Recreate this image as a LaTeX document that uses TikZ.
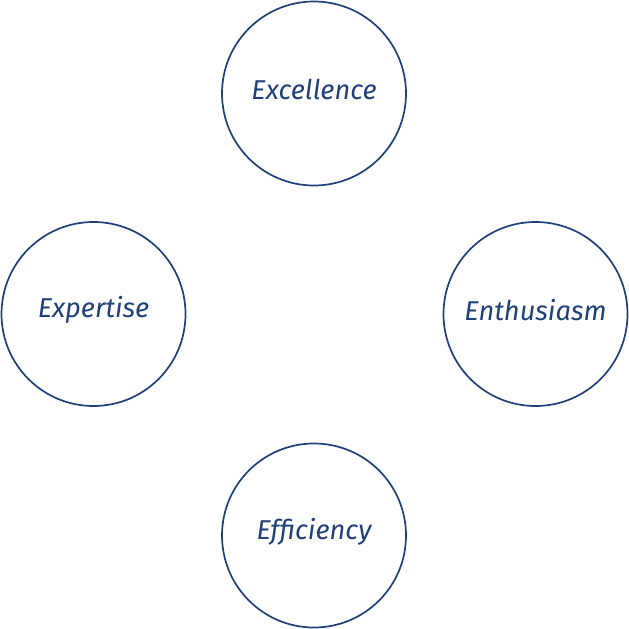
\documentclass[tikz,border=0pt]{standalone}
\usepackage{fontspec}
\setmainfont{Fira Sans}
\definecolor{navy}{HTML}{1F4078}
\begin{document}
\begin{tikzpicture}[x=1pt,y=-1pt,
  ring/.style={circle,draw=navy,line width=1.7pt,minimum size=184pt,inner sep=0pt},
  lbl/.style={text=navy,font=\fontsize{27.2}{30}\selectfont\itshape}]
\useasboundingbox (0,0) rectangle (629,629);
\node[ring] (exc) at (314,93.5) {};
\node[ring] (exp) at (93.5,314) {};
\node[ring] (ent) at (535.5,314) {};
\node[ring] (eff) at (314,535.5) {};
\node[lbl] (excl) at ([yshift=4pt]exc.center) {Excellence};
\node[lbl] (expl) at ([yshift=4pt]exp.center) {Expertise};
\node[lbl] (entl) at ([yshift=4pt]ent.center) {Enthusiasm};
\node[lbl] (effl) at ([yshift=4pt]eff.center) {Efficiency};
\end{tikzpicture}
\end{document}
